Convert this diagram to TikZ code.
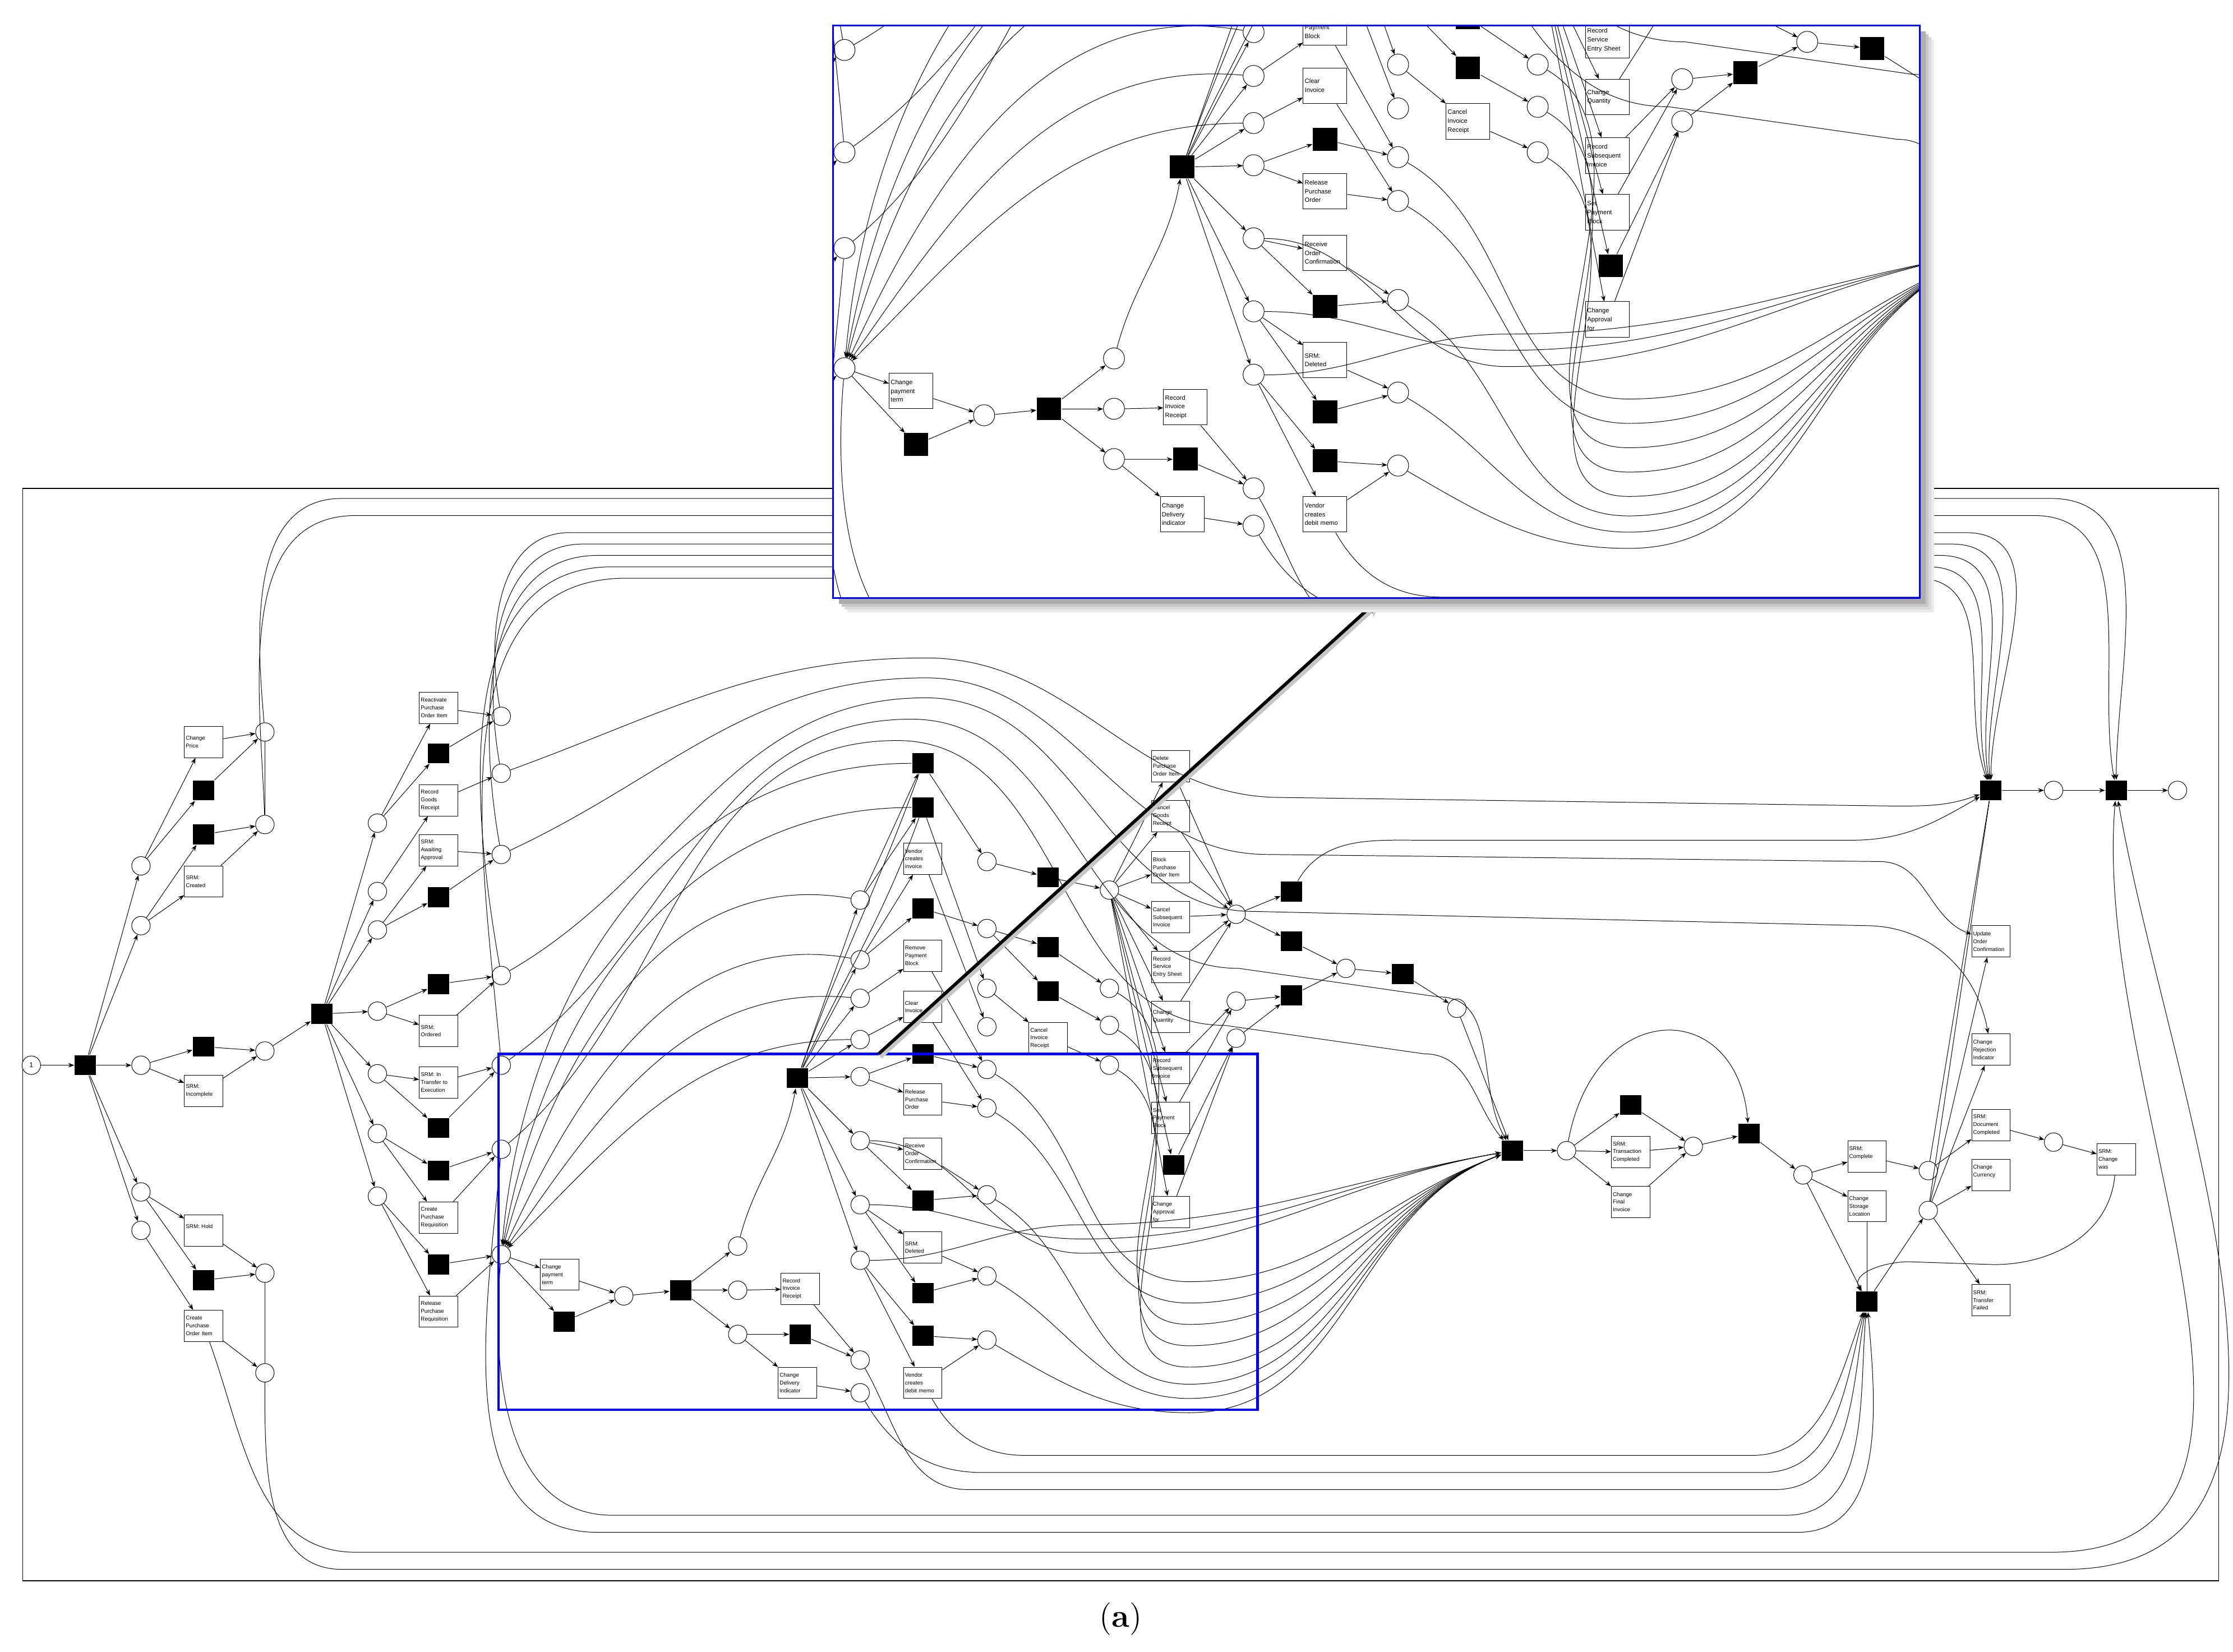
\documentclass[tikz,border=0pt]{standalone}
\usepackage{fontspec}
\setsansfont{Liberation Sans}
\usetikzlibrary{arrows.meta}
\tikzset{
 pl/.style={circle,draw,line width=0.22pt,minimum size=0.26cm,inner sep=0pt,fill=white},
 tr/.style={rectangle,fill=black,minimum width=0.3cm,minimum height=0.28cm,inner sep=0pt},
 bx/.style={rectangle,draw,line width=0.22pt,fill=white,minimum width=0.54cm,minimum height=0.44cm,text width=0.5cm,align=left,inner sep=0.2pt,font=\sffamily\fontsize{2.2}{3.1}\selectfont},
 arc/.style={line width=0.22pt,-{Stealth[length=2.4pt,width=1.8pt]}},
 ln/.style={line width=0.22pt}
}
\newcommand\myar[2]{\draw[arc] (#1) -- (#2);}
\newcommand\mynet{%
% ---------- left
\node[pl] (p0) at (22,748) {\sffamily\fontsize{2.8}{2.8}\selectfont 1};
\node[tr] (t0) at (60,748) {};
\node[pl] (pa) at (99,608) {}; \node[pl] (pb) at (99,650) {}; \node[pl] (pc) at (99,748) {};
\node[pl] (pd) at (99,837) {}; \node[pl] (pe) at (99,864) {};
\node[bx] (bChP) at (143,521) {Change\\Price};
\node[tr] (ta1) at (143,555) {}; \node[tr] (ta2) at (143,586) {};
\node[bx] (bCre) at (143,619) {SRM:\\Created};
\node[pl] (q1) at (186,514) {}; \node[pl] (q2) at (186,579) {};
\node[tr] (tc1) at (143,735) {}; \node[bx] (bInc) at (143,766) {SRM:\\Incomplete};
\node[pl] (q3) at (186,738) {};
\node[bx] (bHold) at (143,864) {SRM: Hold\\~}; \node[tr] (td1) at (143,899) {};
\node[bx] (bCPOI) at (143,931) {Create\\Purchase\\Order Item};
\node[pl] (q4) at (186,894) {}; \node[pl] (q5) at (186,964) {};
\node[tr] (T1) at (226,712) {};
\foreach \n/\y in {1/578,2/626,3/653,4/710,5/754,6/796,7/840} \node[pl] (r\n) at (265,\y) {};
\node[bx] (bReact) at (308,497) {Reactivate\\Purchase\\Order Item};
\node[tr] (u1) at (308,529) {};
\node[bx] (bRGR) at (308,562) {Record\\Goods\\Receipt};
\node[bx] (bAwait) at (308,597) {SRM:\\Awaiting\\Approval};
\node[tr] (u2) at (308,630) {}; \node[tr] (u3) at (308,691) {};
\node[bx] (bOrd) at (308,724) {SRM:\\Ordered};
\node[bx] (bTrans) at (308,760) {SRM: In\\Transfer to\\Execution};
\node[tr] (u4) at (308,792) {}; \node[tr] (u5) at (308,822) {};
\node[bx] (bCPR) at (308,855) {Create\\Purchase\\Requisition};
\node[tr] (u6) at (308,888) {};
\node[bx] (bRPR) at (308,921) {Release\\Purchase\\Requisition};
\foreach \n/\y in {1/503,2/543,3/600,4/685,5/748,6/807,7/881} \node[pl] (s\n) at (352,\y) {};
% ---------- center
\node[bx] (bCPT) at (393,895) {Change\\payment\\term};
\node[tr] (v1) at (396,928) {};
\node[pl] (w1) at (438,910) {}; \node[tr] (T2) at (478,906) {};
\node[pl] (w2) at (518,875) {}; \node[pl] (w3) at (518,906) {}; \node[pl] (w4) at (518,937) {};
\node[bx] (bRIR) at (562,905) {Record\\Invoice\\Receipt};
\node[tr] (v2) at (562,937) {};
\node[bx] (bCDI) at (560,971) {Change\\Delivery\\indicator};
\node[pl] (w5) at (604,955) {}; \node[pl] (w6) at (604,978) {};
\node[tr] (T3) at (560,757) {};
\foreach \n/\y in {1/632,2/674,3/701,4/730,5/756,6/801,7/846,8/885} \node[pl] (x\n) at (604,\y) {};
\node[tr] (y1) at (648,536) {}; \node[tr] (y2) at (648,567) {};
\node[bx] (bVCI) at (648,603) {Vendor\\creates\\invoice};
\node[tr] (y3) at (648,638) {};
\node[bx] (bRPB) at (648,671) {Remove\\Payment\\Block};
\node[bx] (bCI) at (648,707) {Clear\\Invoice};
\node[tr] (y4) at (648,740) {};
\node[bx] (bRPO) at (648,772) {Release\\Purchase\\Order};
\node[bx] (bROC) at (648,810) {Receive\\Order\\Confirmation};
\node[tr] (y5) at (648,843) {};
\node[bx] (bDel) at (648,876) {SRM:\\Deleted};
\node[tr] (y6) at (648,908) {}; \node[tr] (y7) at (648,938) {};
\node[bx] (bVDM) at (648,971) {Vendor\\creates\\debit memo};
\foreach \n/\y in {1/605,2/652,3/694,4/721,5/751,6/778,7/839,8/896,9/941} \node[pl] (z\n) at (693,\y) {};
\node[tr] (k1) at (736,616) {}; \node[tr] (k2) at (736,665) {}; \node[tr] (k3) at (736,696) {};
\node[bx] (bCIR) at (736,729) {Cancel\\Invoice\\Receipt};
\node[pl] (m1) at (779,625) {}; \node[pl] (m2) at (779,694) {}; \node[pl] (m3) at (779,720) {}; \node[pl] (m4) at (779,748) {};
\node[bx] (bDPO) at (822,538) {Delete\\Purchase\\Order Item};
\node[bx] (bCGR) at (822,573) {Cancel\\Goods\\Receipt};
\node[bx] (bBPO) at (822,609) {Block\\Purchase\\Order Item};
\node[bx] (bCSI) at (822,644) {Cancel\\Subsequent\\Invoice};
\node[bx] (bRSE) at (822,679) {Record\\Service\\Entry Sheet};
\node[bx] (bCQ) at (822,714) {Change\\Quantity};
\node[bx] (bRSI) at (822,750) {Record\\Subsequent\\Invoice};
\node[bx] (bSPB) at (822,785) {Set\\Payment\\Block};
\node[tr] (n1) at (824,818) {};
\node[bx] (bCAF) at (822,851) {Change\\Approval\\for};
\node[pl] (o1) at (868,642) {}; \node[pl] (o2) at (868,703) {}; \node[pl] (o3) at (868,729) {};
\node[tr] (b1) at (907,626) {}; \node[tr] (b2) at (907,661) {}; \node[tr] (b3) at (907,699) {};
\node[pl] (o4) at (945,680) {}; \node[tr] (b4) at (985,684) {}; \node[pl] (o5) at (1023,708) {};
% ---------- right
\node[tr] (T4) at (1062,808) {}; \node[pl] (f1) at (1100,808) {};
\node[tr] (g1) at (1145,776) {};
\node[bx] (bSTC) at (1145,809) {SRM:\\Transaction\\Completed};
\node[bx] (bCFI) at (1145,844) {Change\\Final\\Invoice};
\node[pl] (f2) at (1189,805) {}; \node[tr] (T5) at (1228,796) {}; \node[pl] (f3) at (1266,825) {};
\node[bx] (bSC) at (1311,812) {SRM:\\Complete\\~};
\node[bx] (bCSL) at (1311,847) {Change\\Storage\\Location};
\node[pl] (f4) at (1354,822) {}; \node[pl] (f5) at (1354,850) {};
\node[tr] (T6) at (1311,914) {};
\node[bx] (bUOC) at (1398,661) {Update\\Order\\Confirmation};
\node[bx] (bCRI) at (1398,737) {Change\\Rejection\\Indicator};
\node[bx] (bSDC) at (1398,790) {SRM:\\Document\\Completed};
\node[bx] (bCC) at (1398,825) {Change\\Currency\\~};
\node[pl] (f6) at (1442,802) {};
\node[bx] (bSCW) at (1486,814) {SRM:\\Change\\was};
\node[bx] (bSTF) at (1398,913) {SRM:\\Transfer\\Failed};
\node[tr] (T7) at (1398,555) {}; \node[pl] (f7) at (1442,555) {};
\node[tr] (T8) at (1486,555) {}; \node[pl] (f8) at (1529,555) {};
% ---------- straight arcs
\foreach \a/\b in {p0/t0,t0/pa,t0/pb,t0/pc,t0/pd,t0/pe,pa/bChP,pa/ta1,pb/ta2,pb/bCre,bChP/q1,ta1/q1,ta2/q2,bCre/q2,
 pc/tc1,pc/bInc,tc1/q3,bInc/q3,q3/T1,pd/bHold,pd/td1,pe/bCPOI,bHold/q4,td1/q4,bCPOI/q5,
 T1/r1,T1/r2,T1/r3,T1/r4,T1/r5,T1/r6,T1/r7,r1/bReact,r1/u1,r2/bRGR,r3/bAwait,r3/u2,r4/u3,r4/bOrd,r5/bTrans,r5/u4,r6/u5,r6/bCPR,r7/u6,r7/bRPR,
 bReact/s1,u1/s1,bRGR/s2,bAwait/s3,u2/s3,u3/s4,bOrd/s4,bTrans/s5,u4/s5,u5/s6,bCPR/s6,u6/s7,bRPR/s7,
 s7/bCPT,s7/v1,bCPT/w1,v1/w1,w1/T2,T2/w2,T2/w3,T2/w4,w3/bRIR,w4/v2,w4/bCDI,bRIR/w5,v2/w5,bCDI/w6,
 T3/x1,T3/x2,T3/x3,T3/x4,T3/x5,T3/x6,T3/x7,T3/x8,x1/y1,x1/y2,x2/bVCI,x2/y3,x3/bRPB,x4/bCI,x5/y4,x5/bRPO,x6/bROC,x6/y5,x7/bDel,x7/y6,x8/y7,x8/bVDM,
 y1/z1,y2/z3,bVCI/z4,y3/z2,bRPB/z5,bCI/z6,y4/z5,bRPO/z6,bROC/z7,y5/z7,bDel/z8,y6/z8,y7/z9,bVDM/z9,
 z1/k1,z2/k2,z2/k3,z3/bCIR,k1/m1,k2/m2,k3/m3,bCIR/m4,
 m1/bDPO,m1/bCGR,m1/bBPO,m1/bCSI,m1/bRSE,m1/bCQ,m1/bRSI,m1/bSPB,m1/n1,m1/bCAF,
 bDPO/o1,bCGR/o1,bBPO/o1,bCSI/o1,bRSE/o1,bCQ/o1,bRSI/o2,bSPB/o2,n1/o3,bCAF/o3,
 o1/b1,o1/b2,b2/o4,o2/b3,o3/b3,b3/o4,o4/b4,b4/o5,o5/T4,
 T4/f1,f1/g1,f1/bSTC,f1/bCFI,g1/f2,bSTC/f2,bCFI/f2,f2/T5,T5/f3,f3/bSC,f3/bCSL,f3/T6,bSC/f4,T6/f5,
 f5/bUOC,f5/bCRI,f5/bCC,f5/bSTF,f4/bSDC,bSDC/f6,f6/bSCW,T7/f7,f7/T8,T8/f8}{\myar{\a}{\b}}
\draw[ln] (q1) -- (q2); \draw[ln] (q4) -- (q5); \draw[ln] (bCSL) -- (T6);
\draw[ln] (f4) -- (T7); \draw[ln] (f5) -- (T7);
\draw[arc] (w2) to[out=75,in=-100] (T3);
\draw[arc] (f1) .. controls (1120,700) and (1220,700) .. (T5);
% ---------- long curves: top
\draw[arc] (q1) to[out=95,in=180] (240,350) -- (1440,350) to[out=0,in=90] (T8);
\draw[arc] (q2) to[out=92,in=180] (250,362) -- (1428,362) to[out=0,in=100] (T8);
\draw[arc] (s1) to[out=100,in=180] (400,374) -- (1380,374) to[out=0,in=90] (T7);
\draw[arc] (s2) to[out=100,in=180] (410,382) -- (1370,382) to[out=0,in=95] (T7);
\draw[arc] (s3) to[out=100,in=180] (420,390) -- (1362,390) to[out=0,in=100] (T7);
\draw[arc] (s4) to[out=100,in=180] (430,398) -- (1354,398) to[out=0,in=105] (T7);
\draw[arc] (s5) to[out=95,in=180] (440,406) -- (1346,406) to[out=0,in=110] (T7);
% ---------- bottom
\draw[arc] (q5) to[out=-90,in=180] (240,1102) -- (1450,1102) to[out=0,in=-80] (T8);
\draw[arc] (bCPOI) to[out=-70,in=180] (250,1090) -- (1440,1090) to[out=0,in=-95] (T8);
\draw[arc] (s6) to[out=-95,in=180] (420,1076) -- (1262,1076) to[out=0,in=-85] (T6);
\draw[arc] (s7) to[out=-95,in=180] (430,1064) -- (1254,1064) to[out=0,in=-95] (T6);
\draw[arc] (w5) to[out=-60,in=180] (680,1046) -- (1246,1046) to[out=0,in=-100] (T6);
\draw[arc] (w6) to[out=-60,in=180] (690,1034) -- (1238,1034) to[out=0,in=-105] (T6);
\draw[arc] (bVDM) to[out=-60,in=180] (720,1022) -- (1230,1022) to[out=0,in=-110] (T6);
\draw[arc] (bSCW) to[out=-95,in=0] (1400,888) -- (1340,886) to[out=180,in=120] (T6);
% ---------- into s7 from upper right
\draw[arc] (x1) to[out=170,in=75] (s7);
\draw[arc] (x2) to[out=170,in=65] (s7);
\draw[arc] (x3) to[out=175,in=55] (s7);
\draw[arc] (x4) to[out=180,in=45] (s7);
\draw[arc] (y1) to[out=180,in=85] (s7);
\draw[arc] (y2) to[out=180,in=80] (s7);
\draw[ln] (T3) to[out=70,in=-110] (y1);
\draw[ln] (T3) to[out=65,in=-110] (y2);
% ---------- V curves into T4
\foreach \s/\d in {z5/900,z6/915,m2/930,m3/945,m4/960,z7/972,z8/982,z9/992}{
 \draw[arc] (\s) to[out=-30,in=180] (835,\d) to[out=0,in=200] (T4);}
\foreach \s/\d in {x6/880,x7/870,x8/860}{
 \draw[arc] (\s) to[out=0,in=180] (760,\d) to[out=0,in=190] (T4);}
% ---------- upper waves
\draw[arc] (s2) to[out=20,in=180] (650,462) to[out=0,in=180] (900,560) -- (1330,566) to[out=0,in=200] (T7);
\draw[arc] (s3) to[out=25,in=180] (650,476) to[out=0,in=180] (890,600) -- (1320,605) to[out=0,in=160] (bUOC);
\draw[arc] (s4) to[out=30,in=180] (650,490) to[out=0,in=180] (880,640) -- (1310,650) to[out=0,in=100] (bCRI);
\draw[arc] (s5) to[out=35,in=180] (640,505) to[out=0,in=180] (870,680) -- (1010,700) to[out=0,in=120] (T4);
\draw[arc] (s6) to[out=40,in=180] (630,520) to[out=0,in=180] (860,720) -- (1000,740) to[out=0,in=130] (T4);
\draw[arc] (b1) to[out=60,in=180] (1000,590) -- (1300,590) to[out=0,in=210] (T7);
}
\begin{document}
\begin{tikzpicture}[x=0.02cm,y=-0.02cm]
\useasboundingbox (0,0) rectangle (1568,1160);
\fill[white] (0,0) rectangle (1568,1160);
\draw[line width=0.32pt] (16,343) rectangle (1558,1110);
\mynet
\draw[blue,line width=1pt] (350,740) rectangle (883,990);
% zoom arrow
\draw[gray!45,line width=2pt,-{Stealth[length=6pt,width=5.4pt]}] (618,742) -- (969,423);
\draw[black,line width=1.3pt,-{Stealth[length=5.6pt,width=4.8pt]}] (617,740) -- (968,421);
% inset shadow
\foreach \o/\c in {10/8,8/14,6/22,4/32}{\fill[black!\c] (585+\o,18+\o) rectangle (1348+\o,420+\o);}
\fill[white] (585,18) rectangle (1348,420);
\begin{scope}
\clip (585,18) rectangle (1348,420);
\begin{scope}[shift={(191.7,-745.8)},scale=1.14,transform shape]
\mynet
\end{scope}
\end{scope}
\draw[blue,line width=0.7pt] (585,18) rectangle (1348,420);
\node at (787,1137) {\fontsize{13}{14}\selectfont(\textbf{a})};
\end{tikzpicture}
\end{document}
